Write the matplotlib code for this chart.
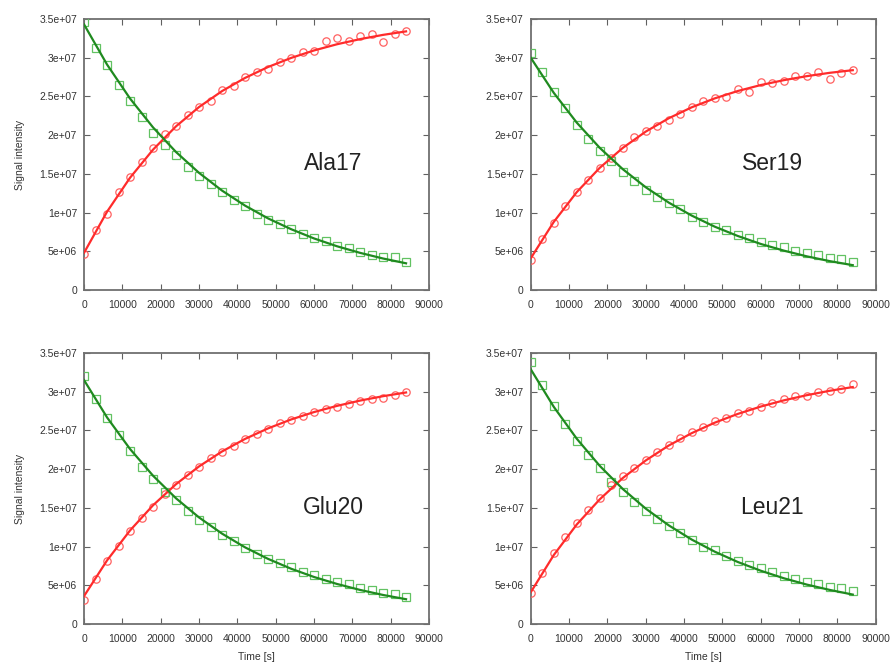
import numpy as np
import matplotlib
matplotlib.use("Agg")
import matplotlib.pyplot as plt

plt.rcParams['font.family'] = ['Liberation Sans', 'DejaVu Sans']

# measurement times [s]
times = [0, 3000, 6000, 9000, 12000, 15000, 18000, 21000, 24000, 27000,
         30000, 33000, 36000, 39000, 42000, 45000, 48000, 51000, 54000, 57000,
         60000, 63000, 66000, 69000, 72000, 75000, 78000, 81000, 84000]
# times at which the fitted curves were read
fit_times = [0, 6000, 12000, 18000, 24000, 30000, 36000, 42000,
             48000, 54000, 60000, 66000, 72000, 78000, 84000]

# intensities in units of 1e6
ala17_red = [4.66, 7.76, 9.87, 12.7, 14.66, 16.5, 18.3, 20.1, 21.2, 22.6,
             23.6, 24.4, 25.8, 26.4, 27.5, 28.2, 28.5, 29.4, 30.0, 30.7,
             30.9, 32.1, 32.5, 32.1, 32.8, 33.0, 32.0, 33.0, 33.4]
ala17_green = [34.57, 31.3, 29.0, 26.5, 24.35, 22.3, 20.3, 18.7, 17.5, 15.9,
               14.7, 13.7, 12.7, 11.6, 10.8, 9.8, 9.05, 8.5, 7.85, 7.24,
               6.72, 6.3, 5.7, 5.4, 4.96, 4.5, 4.3, 4.2, 3.66]
ala17_red_fit = [4.80, 10.11, 14.50, 18.13, 21.14, 23.63, 25.69, 27.39,
                 28.80, 29.97, 30.94, 31.74, 32.40, 32.95, 33.40]
ala17_green_fit = [34.30, 29.12, 24.73, 21.00, 17.82, 15.13, 12.84, 10.90,
                   9.25, 7.86, 6.66, 5.65, 4.80, 4.07, 3.45]

ser19_red = [3.84, 6.55, 8.7, 10.8, 12.6, 14.2, 15.8, 17.1, 18.4, 19.7,
             20.6, 21.2, 21.9, 22.7, 23.7, 24.4, 24.8, 24.9, 25.9, 25.6,
             26.8, 26.7, 27.0, 27.7, 27.6, 28.2, 27.2, 28.0, 28.4]
ser19_green = [30.56, 28.1, 25.6, 23.45, 21.3, 19.5, 17.9, 16.7, 15.3, 14.05,
               12.9, 12.07, 11.3, 10.4, 9.4, 8.8, 8.2, 7.7, 7.16, 6.68,
               6.25, 5.78, 5.5, 5.04, 4.83, 4.48, 4.18, 3.97, 3.66]
ser19_red_fit = [4.10, 8.79, 12.64, 15.78, 18.35, 20.46, 22.18, 23.60,
                 24.75, 25.70, 26.47, 27.10, 27.62, 28.05, 28.39]
ser19_green_fit = [30.00, 25.47, 21.62, 18.36, 15.61, 13.27, 11.29, 9.61,
                   8.18, 6.98, 5.95, 5.09, 4.35, 3.73, 3.21]

glu20_red = [3.1, 5.78, 8.19, 10.09, 12.03, 13.66, 15.17, 16.77, 17.97, 19.18,
             20.26, 21.5, 22.16, 23.0, 23.9, 24.5, 25.2, 25.9, 26.4, 26.9,
             27.4, 27.8, 28.0, 28.4, 28.8, 29.05, 29.2, 29.6, 29.9]
glu20_green = [32.0, 29.1, 26.6, 24.4, 22.3, 20.3, 18.7, 17.0, 16.0, 14.6,
               13.45, 12.5, 11.5, 10.7, 9.8, 9.1, 8.4, 7.84, 7.3, 6.77,
               6.34, 5.78, 5.47, 5.13, 4.7, 4.4, 4.05, 3.84, 3.53]
glu20_red_fit = [3.60, 8.21, 12.08, 15.33, 18.06, 20.35, 22.28, 23.90,
                 25.26, 26.41, 27.37, 28.17, 28.85, 29.42, 29.90]
glu20_green_fit = [31.50, 26.68, 22.60, 19.15, 16.23, 13.76, 11.67, 9.90,
                   8.41, 7.14, 6.07, 5.17, 4.40, 3.75, 3.20]

leu21_red = [3.97, 6.64, 9.22, 11.2, 13.1, 14.74, 16.25, 17.97, 19.05, 20.1,
             21.2, 22.16, 23.06, 24.0, 24.8, 25.4, 26.25, 26.6, 27.2, 27.5,
             28.0, 28.5, 29.0, 29.5, 29.5, 29.9, 30.1, 30.3, 31.0]
leu21_green = [33.8, 30.9, 28.2, 25.8, 23.6, 21.85, 20.1, 18.4, 17.0, 15.8,
               14.6, 13.5, 12.6, 11.7, 10.8, 10.0, 9.57, 8.8, 8.2, 7.63,
               7.2, 6.77, 6.25, 5.82, 5.47, 5.17, 4.83, 4.6, 4.3]
leu21_red_fit = [4.10, 8.90, 12.85, 16.10, 18.85, 21.12, 23.05, 24.65,
                 26.00, 27.13, 28.08, 28.88, 29.55, 30.12, 30.60]
leu21_green_fit = [32.90, 28.05, 23.93, 20.42, 17.44, 14.90, 12.74, 10.90,
                   9.34, 8.01, 6.88, 5.91, 5.09, 4.40, 3.80]

residues = ["Ala17", "Ser19", "Glu20", "Leu21"]
red_pts = [ala17_red, ser19_red, glu20_red, leu21_red]
green_pts = [ala17_green, ser19_green, glu20_green, leu21_green]
red_fits = [ala17_red_fit, ser19_red_fit, glu20_red_fit, leu21_red_fit]
green_fits = [ala17_green_fit, ser19_green_fit, glu20_green_fit, leu21_green_fit]
label_pos = [(65000, 16.4), (63200, 16.4), (65000, 15.1), (63000, 15.1)]

y_ticks = [0, 5e6, 1e7, 1.5e7, 2e7, 2.5e7, 3e7, 3.5e7]
y_ticklabels = ["0", "5e+06", "1e+07", "1.5e+07", "2e+07", "2.5e+07", "3e+07", "3.5e+07"]
x_ticks = [0, 10000, 20000, 30000, 40000, 50000, 60000, 70000, 80000, 90000]

SCALE = 1e6
fig = plt.figure(figsize=(8.92, 6.62), dpi=100)

# axes boxes in figure fractions: left, bottom, width, height
boxes = [(0.0942, 0.5619, 0.3868, 0.4094),
         (0.5950, 0.5619, 0.3868, 0.4094),
         (0.0942, 0.0574, 0.3868, 0.4094),
         (0.5950, 0.0574, 0.3868, 0.4094)]

for i, name in enumerate(residues):
    ax = fig.add_axes(boxes[i])
    t = np.array(times)
    ft = np.array(fit_times)
    ax.plot(t, np.array(red_pts[i]) * SCALE, 'o', ms=5.3, mfc='none',
            mec='#ff6060', mew=0.9, zorder=3)
    ax.plot(t, np.array(green_pts[i]) * SCALE, 's', ms=5.3, mfc='none',
            mec='#62c262', mew=0.9, zorder=3)
    ax.plot(ft, np.array(red_fits[i]) * SCALE, '-', color='#ff2b2b', lw=1.6, zorder=4)
    ax.plot(ft, np.array(green_fits[i]) * SCALE, '-', color='#1f8a1f', lw=1.6, zorder=4)

    ax.set_xlim(0, 90000)
    ax.set_ylim(0, 3.5e7)
    ax.set_xticks(x_ticks)
    ax.set_xticklabels([str(v) for v in x_ticks])
    ax.set_yticks(y_ticks)
    ax.set_yticklabels(y_ticklabels)
    ax.tick_params(direction='in', length=4, width=0.8, color='#606060',
                   labelsize=7.5, labelcolor='#333333', top=True, right=True)
    ax.tick_params(axis='x', pad=7)
    ax.tick_params(axis='y', pad=5)
    for s in ax.spines.values():
        s.set_color('#707070')
        s.set_linewidth(1.3)

    lx, ly = label_pos[i]
    ax.text(lx, ly * SCALE, name, fontsize=16.5, color='#222222',
            ha='center', va='center')

    if i % 2 == 0:
        ax.set_ylabel("Signal intensity", fontsize=7.5, color='#333333', labelpad=10)
    if i >= 2:
        ax.set_xlabel("Time [s]", fontsize=7.5, color='#333333', labelpad=6)

fig.savefig("out.png", dpi=100)
